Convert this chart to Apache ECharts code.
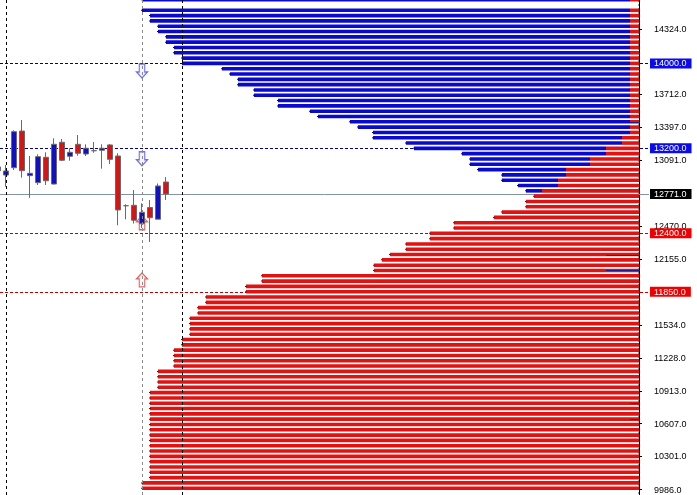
<!DOCTYPE html>
<html><head><meta charset="utf-8">
<script src="https://cdn.jsdelivr.net/npm/echarts@6/dist/echarts.min.js"></script>
<style>html,body{margin:0;padding:0;background:#fff}#c{width:697px;height:495px}</style>
</head><body><div id="c"></div>
<script>
// ---------- data ----------
const candleCategories = ['1','2','3','4','5','6','7','8','9','10','11','12','13','14','15','16','17','18','19','20','21','22','23','24','25'];
// [open, close, low, high]
const candles = [
  [13025,12990,12930,13122],
  [12949,12987,12839,13043],
  [13018,13357,12996,13370],
  [13363,12990,12924,13467],
  [12943,12965,12735,13128],
  [12877,13122,12855,13144],
  [13116,12895,12855,13163],
  [12864,13238,12860,13295],
  [13257,13088,13080,13288],
  [13125,13163,13084,13201],
  [13238,13154,13131,13326],
  [13147,13201,13128,13238],
  [13178,13178,13159,13260],
  [13182,13201,13009,13238],
  [13232,13097,13053,13240],
  [13128,12620,12476,13154],
  [12660,12660,12532,12673],
  [12664,12523,12492,12808],
  [12490,12598,12450,12683],
  [12643,12547,12318,12714],
  [12533,12846,12533,12869],
  [12883,12771,12714,12930]
];
const levels = [14600,14550,14500,14450,14400,14350,14300,14250,14200,14150,14100,14050,14000,13950,13900,13850,13800,13750,13700,13650,13600,13550,13500,13450,13400,13350,13300,13250,13200,13150,13100,13050,13000,12950,12900,12850,12800,12750,12700,12650,12600,12550,12500,12450,12400,12350,12300,12250,12200,12150,12100,12050,12000,11950,11900,11850,11800,11750,11700,11650,11600,11550,11500,11450,11400,11350,11300,11250,11200,11150,11100,11050,11000,10950,10900,10850,10800,10750,10700,10650,10600,10550,10500,10450,10400,10350,10300,10250,10200,10150,10100,10050,10000];
const redVol = [9,0,9,9,9,9,9,9,9,9,9,9,9,9,9,9,9,9,9,9,9,9,9,9,9,9,17,17,33,33,49,49,73,73,81,81,97,105,113,113,137,145,185,185,209,209,233,233,249,257,265,265,377,377,393,393,433,433,441,441,449,449,449,449,457,457,465,465,465,465,481,481,481,481,489,489,489,489,489,489,489,489,489,489,489,489,489,489,489,489,489,497,497];
const blueVol = [488,0,488,480,480,472,472,464,464,456,456,448,448,408,400,392,392,376,376,352,352,320,312,280,272,257,249,216,192,144,120,120,88,64,56,40,16,0,0,0,0,0,0,0,0,0,0,0,0,0,0,0,0,0,0,0,0,0,0,0,0,0,0,0,0,0,0,0,0,0,0,0,0,0,0,0,0,0,0,0,0,0,0,0,0,0,0,0,0,0,0,0,0];
const thinLevels = [13450,12200,12050,10800,10650];
const thinVol = [9,33,33,9,9];
const axisTickValues = [14324,13712,13397,13091,12470,12155,11534,11228,10913,10607,10301,9986];
const markedPrices = [14000,13200,12771,12400,11850];
const markedKinds = ['buy','buy','last','sell','sell'];
const vLineCats = [1,18,23];
const arrowCat = 18;
const arrowDownPrices = [13928,13102];
const arrowUpPrices = [12500,11961];

// ---------- styles ----------
const Y_MIN = 9936, Y_MAX = 14597;
const FONT = 'Liberation Sans';
const BLUE = '#0a0acd', RED = '#e01212';
const hStyle = {
  buy: {stroke:'#00008b', lineDash:[3,2]},
  sell:{stroke:'#c00000', lineDash:[3,2]},
  last:{stroke:'#8494a4', lineDash:null}
};
const vColors = ['#000000','#8a8a8a','#000000'];

const allLabels = axisTickValues.concat(markedPrices).sort((a,b)=>b-a);
const labelBase = {fontSize:9, fontFamily:FONT, padding:[1,5,0,4], lineHeight:9};
function fmt(v){
  const k = markedPrices.indexOf(v);
  const t = Number(v).toFixed(1);
  return k >= 0 ? '{'+markedKinds[k]+'|'+t+'}' : '{n|'+t+'}';
}

const chart = echarts.init(document.getElementById('c'), null, {renderer:'canvas'});
chart.setOption({
  animation:false,
  backgroundColor:'#ffffff',
  grid:[
    {left:-6, top:0, width:200, height:495, outerBoundsMode:'none', containLabel:false},
    {left:0, top:0, width:649, height:495, outerBoundsMode:'none', containLabel:false}
  ],
  xAxis:[
    {gridIndex:0, type:'category', data:candleCategories, boundaryGap:true, show:false},
    {gridIndex:1, type:'value', inverse:true, min:-10, max:639, show:false}
  ],
  yAxis:[
    {gridIndex:0, type:'value', min:Y_MIN, max:Y_MAX, show:false},
    {gridIndex:1, type:'value', min:Y_MIN, max:Y_MAX, position:'right',
      axisLine:{show:true, lineStyle:{color:'#000', width:1}},
      axisTick:{show:true, inside:false, length:3, customValues:axisTickValues, lineStyle:{color:'#000'}},
      splitLine:{show:false},
      axisLabel:{show:true, margin:1, customValues:allLabels, formatter:fmt,
        rich:{
          n:Object.assign({color:'#000'}, labelBase),
          buy:Object.assign({color:'#fff', backgroundColor:'#0a0aee'}, labelBase),
          sell:Object.assign({color:'#fff', backgroundColor:'#f00000'}, labelBase),
          last:Object.assign({color:'#fff', backgroundColor:'#000000'}, labelBase)
        }}
    }
  ],
  series:[
    { // price level lines (under bars)
      type:'custom', xAxisIndex:1, yAxisIndex:1, z:1, silent:true,
      data: markedPrices.map((p,i)=>[i,p]),
      encode:{x:0, y:1},
      renderItem(params, api){
        const cs = params.coordSys;
        const y = Math.round(api.coord([0, api.value(1)])[1]) + 0.5;
        const st = hStyle[markedKinds[params.dataIndex]];
        return {type:'line', shape:{x1:cs.x, y1:y, x2:cs.x+cs.width, y2:y},
          style:{stroke:st.stroke, lineWidth:1, lineDash:st.lineDash}};
      }
    },
    { // zero edge of the depth bars
      type:'custom', xAxisIndex:1, yAxisIndex:1, z:1, silent:true,
      data:[[0, Y_MIN]], encode:{x:0, y:1},
      renderItem(params, api){
        const cs = params.coordSys;
        const x = Math.round(api.coord([0, Y_MIN])[0]) - 0.5;
        return {type:'line', shape:{x1:x, y1:cs.y, x2:x, y2:cs.y+cs.height},
          style:{stroke:'#9a9a9a', lineWidth:1, lineDash:[2,2]}};
      }
    },
    { // depth bars
      type:'custom', xAxisIndex:1, yAxisIndex:1, z:2, silent:true,
      data: levels.map((p,i)=>[redVol[i]+blueVol[i], p, redVol[i], blueVol[i]]),
      encode:{x:0, y:1},
      renderItem(params, api){
        const p = api.value(1), r = api.value(2), b = api.value(3);
        if (r + b <= 0) return;
        const c0 = api.coord([0,p]), c1 = api.coord([r,p]), c2 = api.coord([r+b,p]);
        const h = 3.6, y = c0[1] - h/2;
        const ch = [];
        if (b > 0) ch.push({type:'rect', shape:{x:c2[0], y:y, width:c1[0]-c2[0], height:h}, style:{fill:BLUE}});
        if (r > 0) ch.push({type:'rect', shape:{x:c1[0], y:y, width:c0[0]-c1[0], height:h}, style:{fill:RED}});
        ch.push({type:'rect', shape:{x:c2[0]-1, y:c0[1]-0.5, width:1.5, height:1}, style:{fill:b>0?'#000066':'#700000'}});
        return {type:'group', children:ch};
      }
    },
    { // thin overlay lines
      type:'custom', xAxisIndex:1, yAxisIndex:1, z:3, silent:true,
      data: thinLevels.map((p,i)=>[thinVol[i], p]),
      encode:{x:0, y:1},
      renderItem(params, api){
        const p = api.value(1), v = api.value(0);
        const a = api.coord([0,p]), b = api.coord([v,p]);
        const y = Math.round(a[1]) + 0.5;
        return {type:'line', shape:{x1:b[0], y1:y, x2:a[0]+1, y2:y}, style:{stroke:'#1c1c90', lineWidth:1}};
      }
    },
    { // trade arrows (down, blue)
      type:'scatter', xAxisIndex:0, yAxisIndex:0, z:3, silent:true,
      symbol:'path://M3,0 L9,0 L9,8 L12,8 L6,14 L0,8 L3,8 Z', symbolSize:[11,14],
      itemStyle:{color:'#f2f2ff', borderColor:'#4a4af0', borderWidth:1.2},
      data: arrowDownPrices.map(p=>[arrowCat, p])
    },
    { // trade arrows (up, red)
      type:'scatter', xAxisIndex:0, yAxisIndex:0, z:3, silent:true,
      symbol:'path://M6,0 L12,6 L9,6 L9,14 L3,14 L3,6 L0,6 Z', symbolSize:[11,14],
      itemStyle:{color:'#fff2f2', borderColor:'#e03a3a', borderWidth:1.2},
      data: arrowUpPrices.map(p=>[arrowCat, p])
    },
    { // candles
      type:'candlestick', xAxisIndex:0, yAxisIndex:0, z:4, silent:true, barWidth:5,
      itemStyle:{color:'#1010c8', color0:'#dc1212', borderColor:'#6a6a6a', borderColor0:'#6a6a6a', borderColorDoji:'#6a6a6a', borderWidth:1},
      data: candles
    },
    { // vertical separators (over bars)
      type:'custom', xAxisIndex:0, yAxisIndex:0, z:6, silent:true,
      data: vLineCats.map(c=>[c, Y_MIN]), encode:{x:0, y:1},
      renderItem(params, api){
        const h = params.coordSys;
        const x = Math.round(api.coord([api.value(0), Y_MIN])[0]) + 0.5;
        return {type:'line', shape:{x1:x, y1:h.y, x2:x, y2:h.y+h.height},
          style:{stroke:vColors[params.dataIndex], lineWidth:1, lineDash:[3,3]}};
      }
    }
  ]
});
</script>
</body></html>
